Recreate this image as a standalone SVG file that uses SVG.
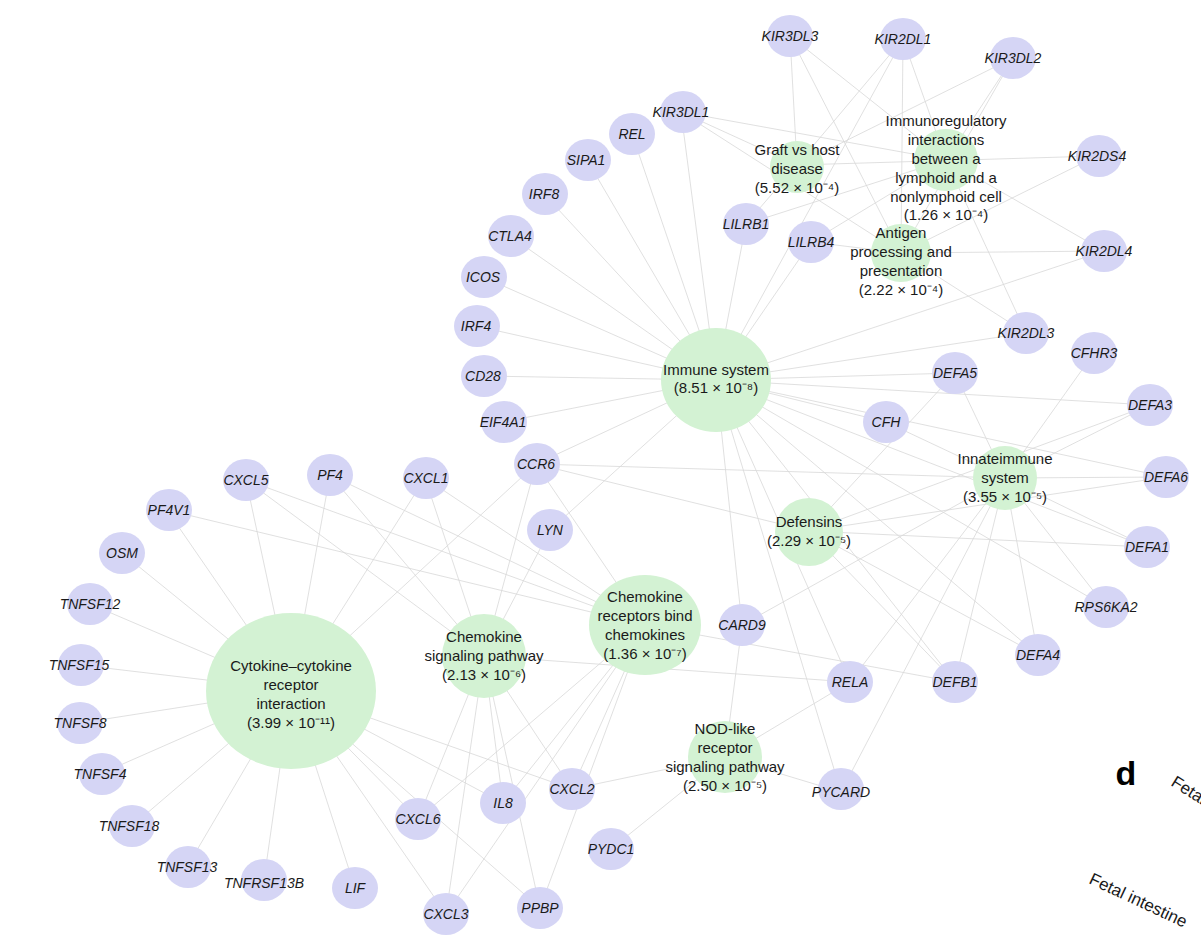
<svg xmlns="http://www.w3.org/2000/svg" width="1201" height="942" viewBox="0 0 1201 942">
<style>
.g ellipse{fill:#d5d5f5}
.p ellipse{fill:#d3f2d3}
text{font-family:"Liberation Sans",Arial,sans-serif;font-size:14px;fill:#1a1a1a;text-anchor:middle}
.p text{font-size:15px}
.g text{font-style:italic}
#edges line{stroke:#d8d8d8;stroke-width:0.8}
</style>
<rect width="1201" height="942" fill="#fff"/>
<g id="edges">
<line x1="716" y1="380" x2="681" y2="112"/><line x1="716" y1="380" x2="632" y2="134"/><line x1="716" y1="380" x2="587" y2="160"/><line x1="716" y1="380" x2="544" y2="194"/><line x1="716" y1="380" x2="510" y2="236"/><line x1="716" y1="380" x2="483" y2="277"/><line x1="716" y1="380" x2="476" y2="326"/><line x1="716" y1="380" x2="483" y2="376"/><line x1="716" y1="380" x2="503" y2="422"/><line x1="716" y1="380" x2="536" y2="464"/><line x1="716" y1="380" x2="746" y2="224"/><line x1="716" y1="380" x2="811" y2="242"/><line x1="716" y1="380" x2="903" y2="39"/><line x1="716" y1="380" x2="1026" y2="333"/><line x1="716" y1="380" x2="1104" y2="251"/><line x1="716" y1="380" x2="955" y2="373"/><line x1="716" y1="380" x2="1150" y2="405"/><line x1="716" y1="380" x2="886" y2="422"/><line x1="716" y1="380" x2="1166" y2="477"/><line x1="716" y1="380" x2="1147" y2="547"/><line x1="716" y1="380" x2="1038" y2="655"/><line x1="716" y1="380" x2="955" y2="682"/><line x1="716" y1="380" x2="850" y2="682"/><line x1="716" y1="380" x2="742" y2="625"/><line x1="716" y1="380" x2="841" y2="792"/><line x1="716" y1="380" x2="550" y2="530"/><line x1="716" y1="380" x2="1106" y2="607"/>
<line x1="797" y1="165" x2="790" y2="36"/><line x1="797" y1="165" x2="903" y2="39"/><line x1="797" y1="165" x2="1013" y2="58"/><line x1="797" y1="165" x2="681" y2="112"/><line x1="797" y1="165" x2="746" y2="224"/><line x1="797" y1="165" x2="1097" y2="156"/>
<line x1="946" y1="160" x2="681" y2="112"/><line x1="946" y1="160" x2="903" y2="39"/><line x1="946" y1="160" x2="1013" y2="58"/><line x1="946" y1="160" x2="746" y2="224"/><line x1="946" y1="160" x2="811" y2="242"/><line x1="946" y1="160" x2="1104" y2="251"/><line x1="946" y1="160" x2="1026" y2="333"/><line x1="946" y1="160" x2="790" y2="36"/>
<line x1="901" y1="253" x2="790" y2="36"/><line x1="901" y1="253" x2="903" y2="39"/><line x1="901" y1="253" x2="1013" y2="58"/><line x1="901" y1="253" x2="681" y2="112"/><line x1="901" y1="253" x2="811" y2="242"/><line x1="901" y1="253" x2="1104" y2="251"/><line x1="901" y1="253" x2="1026" y2="333"/><line x1="901" y1="253" x2="1097" y2="156"/>
<line x1="1005" y1="478" x2="1094" y2="353"/><line x1="1005" y1="478" x2="955" y2="373"/><line x1="1005" y1="478" x2="1150" y2="405"/><line x1="1005" y1="478" x2="886" y2="422"/><line x1="1005" y1="478" x2="1166" y2="477"/><line x1="1005" y1="478" x2="1147" y2="547"/><line x1="1005" y1="478" x2="1106" y2="607"/><line x1="1005" y1="478" x2="1038" y2="655"/><line x1="1005" y1="478" x2="955" y2="682"/><line x1="1005" y1="478" x2="850" y2="682"/><line x1="1005" y1="478" x2="742" y2="625"/><line x1="1005" y1="478" x2="536" y2="464"/><line x1="1005" y1="478" x2="841" y2="792"/>
<line x1="809" y1="531" x2="955" y2="373"/><line x1="809" y1="531" x2="1150" y2="405"/><line x1="809" y1="531" x2="1166" y2="477"/><line x1="809" y1="531" x2="1147" y2="547"/><line x1="809" y1="531" x2="1038" y2="655"/><line x1="809" y1="531" x2="955" y2="682"/><line x1="809" y1="531" x2="536" y2="464"/>
<line x1="645" y1="625" x2="246" y2="480"/><line x1="645" y1="625" x2="330" y2="475"/><line x1="645" y1="625" x2="425" y2="478"/><line x1="645" y1="625" x2="536" y2="464"/><line x1="645" y1="625" x2="167" y2="510"/><line x1="645" y1="625" x2="572" y2="789"/><line x1="645" y1="625" x2="503" y2="803"/><line x1="645" y1="625" x2="418" y2="819"/><line x1="645" y1="625" x2="446" y2="914"/><line x1="645" y1="625" x2="540" y2="908"/><line x1="645" y1="625" x2="955" y2="682"/>
<line x1="484" y1="656" x2="246" y2="480"/><line x1="484" y1="656" x2="330" y2="475"/><line x1="484" y1="656" x2="425" y2="478"/><line x1="484" y1="656" x2="536" y2="464"/><line x1="484" y1="656" x2="550" y2="530"/><line x1="484" y1="656" x2="572" y2="789"/><line x1="484" y1="656" x2="503" y2="803"/><line x1="484" y1="656" x2="418" y2="819"/><line x1="484" y1="656" x2="446" y2="914"/><line x1="484" y1="656" x2="540" y2="908"/><line x1="484" y1="656" x2="850" y2="682"/>
<line x1="291" y1="690" x2="167" y2="510"/><line x1="291" y1="690" x2="122" y2="553"/><line x1="291" y1="690" x2="90" y2="604"/><line x1="291" y1="690" x2="80" y2="665"/><line x1="291" y1="690" x2="80" y2="723"/><line x1="291" y1="690" x2="100" y2="774"/><line x1="291" y1="690" x2="132" y2="826"/><line x1="291" y1="690" x2="187" y2="867"/><line x1="291" y1="690" x2="264" y2="880"/><line x1="291" y1="690" x2="355" y2="888"/><line x1="291" y1="690" x2="246" y2="480"/><line x1="291" y1="690" x2="330" y2="475"/><line x1="291" y1="690" x2="425" y2="478"/><line x1="291" y1="690" x2="536" y2="464"/><line x1="291" y1="690" x2="418" y2="819"/><line x1="291" y1="690" x2="503" y2="803"/><line x1="291" y1="690" x2="572" y2="789"/><line x1="291" y1="690" x2="446" y2="914"/><line x1="291" y1="690" x2="540" y2="908"/>
<line x1="725" y1="757" x2="572" y2="789"/><line x1="725" y1="757" x2="850" y2="682"/><line x1="725" y1="757" x2="742" y2="625"/><line x1="725" y1="757" x2="841" y2="792"/><line x1="725" y1="757" x2="611" y2="849"/>
</g>
<g id="gene-nodes" class="g">
<g id="n-KIR3DL3"><ellipse cx="790" cy="36" rx="23" ry="21"/><text x="790" y="41">KIR3DL3</text></g>
<g id="n-KIR2DL1"><ellipse cx="903" cy="39" rx="23" ry="21"/><text x="903" y="44">KIR2DL1</text></g>
<g id="n-KIR3DL2"><ellipse cx="1013" cy="58" rx="23" ry="21"/><text x="1013" y="63">KIR3DL2</text></g>
<g id="n-KIR3DL1"><ellipse cx="683" cy="112" rx="23" ry="21"/><text x="681" y="117">KIR3DL1</text></g>
<g id="n-REL"><ellipse cx="632" cy="134" rx="23" ry="21"/><text x="632" y="139">REL</text></g>
<g id="n-SIPA1"><ellipse cx="588" cy="160" rx="23" ry="21"/><text x="586" y="165">SIPA1</text></g>
<g id="n-IRF8"><ellipse cx="545" cy="194" rx="23" ry="21"/><text x="544" y="199">IRF8</text></g>
<g id="n-CTLA4"><ellipse cx="511" cy="236" rx="23" ry="21"/><text x="510" y="241">CTLA4</text></g>
<g id="n-ICOS"><ellipse cx="484" cy="277" rx="23" ry="21"/><text x="483" y="282">ICOS</text></g>
<g id="n-IRF4"><ellipse cx="477" cy="326" rx="23" ry="21"/><text x="476" y="331">IRF4</text></g>
<g id="n-CD28"><ellipse cx="484" cy="376" rx="23" ry="21"/><text x="483" y="381">CD28</text></g>
<g id="n-EIF4A1"><ellipse cx="504" cy="422" rx="23" ry="21"/><text x="503" y="427">EIF4A1</text></g>
<g id="n-CCR6"><ellipse cx="537" cy="464" rx="23" ry="21"/><text x="536" y="469">CCR6</text></g>
<g id="n-LILRB1"><ellipse cx="746" cy="224" rx="23" ry="21"/><text x="746" y="229">LILRB1</text></g>
<g id="n-LILRB4"><ellipse cx="811" cy="242" rx="23" ry="21"/><text x="811" y="247">LILRB4</text></g>
<g id="n-KIR2DS4"><ellipse cx="1099" cy="156" rx="23" ry="21"/><text x="1097" y="161">KIR2DS4</text></g>
<g id="n-KIR2DL4"><ellipse cx="1104" cy="251" rx="23" ry="21"/><text x="1104" y="256">KIR2DL4</text></g>
<g id="n-KIR2DL3"><ellipse cx="1026" cy="333" rx="23" ry="21"/><text x="1026" y="338">KIR2DL3</text></g>
<g id="n-CFHR3"><ellipse cx="1094" cy="353" rx="23" ry="21"/><text x="1094" y="358">CFHR3</text></g>
<g id="n-DEFA5"><ellipse cx="955" cy="373" rx="23" ry="21"/><text x="955" y="378">DEFA5</text></g>
<g id="n-DEFA3"><ellipse cx="1150" cy="405" rx="23" ry="21"/><text x="1150" y="410">DEFA3</text></g>
<g id="n-CFH"><ellipse cx="886" cy="422" rx="23" ry="21"/><text x="886" y="427">CFH</text></g>
<g id="n-DEFA6"><ellipse cx="1166" cy="477" rx="23" ry="21"/><text x="1166" y="482">DEFA6</text></g>
<g id="n-DEFA1"><ellipse cx="1147" cy="547" rx="23" ry="21"/><text x="1147" y="552">DEFA1</text></g>
<g id="n-RPS6KA2"><ellipse cx="1106" cy="607" rx="23" ry="21"/><text x="1106" y="612">RPS6KA2</text></g>
<g id="n-DEFA4"><ellipse cx="1038" cy="655" rx="23" ry="21"/><text x="1038" y="660">DEFA4</text></g>
<g id="n-DEFB1"><ellipse cx="955" cy="682" rx="23" ry="21"/><text x="955" y="687">DEFB1</text></g>
<g id="n-RELA"><ellipse cx="850" cy="682" rx="23" ry="21"/><text x="850" y="687">RELA</text></g>
<g id="n-CARD9"><ellipse cx="742" cy="625" rx="23" ry="21"/><text x="742" y="630">CARD9</text></g>
<g id="n-PYCARD"><ellipse cx="841" cy="789" rx="23" ry="21"/><text x="841" y="797">PYCARD</text></g>
<g id="n-PYDC1"><ellipse cx="611" cy="849" rx="23" ry="21"/><text x="611" y="854">PYDC1</text></g>
<g id="n-PPBP"><ellipse cx="540" cy="908" rx="23" ry="21"/><text x="540" y="913">PPBP</text></g>
<g id="n-CXCL3"><ellipse cx="446" cy="914" rx="23" ry="21"/><text x="446" y="919">CXCL3</text></g>
<g id="n-CXCL2"><ellipse cx="572" cy="789" rx="23" ry="21"/><text x="572" y="794">CXCL2</text></g>
<g id="n-IL8"><ellipse cx="503" cy="803" rx="23" ry="21"/><text x="503" y="808">IL8</text></g>
<g id="n-CXCL6"><ellipse cx="418" cy="819" rx="23" ry="21"/><text x="418" y="824">CXCL6</text></g>
<g id="n-LIF"><ellipse cx="355" cy="888" rx="23" ry="21"/><text x="355" y="893">LIF</text></g>
<g id="n-TNFRSF13B"><ellipse cx="264" cy="880" rx="23" ry="21"/><text x="264" y="888">TNFRSF13B</text></g>
<g id="n-TNFSF13"><ellipse cx="188" cy="867" rx="23" ry="21"/><text x="187" y="872">TNFSF13</text></g>
<g id="n-TNFSF18"><ellipse cx="132" cy="826" rx="23" ry="21"/><text x="129" y="831">TNFSF18</text></g>
<g id="n-TNFSF4"><ellipse cx="102" cy="774" rx="23" ry="21"/><text x="100" y="779">TNFSF4</text></g>
<g id="n-TNFSF8"><ellipse cx="80" cy="723" rx="23" ry="21"/><text x="80" y="728">TNFSF8</text></g>
<g id="n-TNFSF15"><ellipse cx="81" cy="665" rx="23" ry="21"/><text x="79" y="670">TNFSF15</text></g>
<g id="n-TNFSF12"><ellipse cx="90" cy="604" rx="23" ry="21"/><text x="90" y="609">TNFSF12</text></g>
<g id="n-OSM"><ellipse cx="122" cy="553" rx="23" ry="21"/><text x="122" y="558">OSM</text></g>
<g id="n-PF4V1"><ellipse cx="169" cy="510" rx="23" ry="21"/><text x="169" y="515">PF4V1</text></g>
<g id="n-CXCL5"><ellipse cx="246" cy="480" rx="23" ry="21"/><text x="246" y="485">CXCL5</text></g>
<g id="n-PF4"><ellipse cx="330" cy="475" rx="23" ry="21"/><text x="330" y="480">PF4</text></g>
<g id="n-CXCL1"><ellipse cx="426" cy="478" rx="23" ry="21"/><text x="426" y="483">CXCL1</text></g>
<g id="n-LYN"><ellipse cx="550" cy="530" rx="23" ry="21"/><text x="550" y="535">LYN</text></g>
</g>
<g id="pathway-nodes" class="p">
<g id="p-immune"><ellipse cx="716" cy="380" rx="55" ry="52"/><text x="716" y="375">Immune system</text><text x="716" y="393">(8.51 × 10⁻⁸)</text></g>
<g id="p-gvhd"><ellipse cx="797" cy="167" rx="27" ry="26"/><text x="797" y="155">Graft vs host</text><text x="797" y="174">disease</text><text x="797" y="193">(5.52 × 10⁻⁴)</text></g>
<g id="p-immunoreg"><ellipse cx="946" cy="160" rx="32" ry="31"/><text x="946" y="126">Immunoregulatory</text><text x="946" y="145">interactions</text><text x="946" y="164">between a</text><text x="946" y="183">lymphoid and a</text><text x="946" y="202">nonlymphoid cell</text><text x="946" y="220">(1.26 × 10⁻⁴)</text></g>
<g id="p-antigen"><ellipse cx="901" cy="253" rx="30" ry="29"/><text x="901" y="238">Antigen</text><text x="901" y="257">processing and</text><text x="901" y="276">presentation</text><text x="901" y="295">(2.22 × 10⁻⁴)</text></g>
<g id="p-innate"><ellipse cx="1005" cy="478" rx="32" ry="32"/><text x="1005" y="464">Innateimmune</text><text x="1005" y="483">system</text><text x="1005" y="502">(3.55 × 10⁻⁵)</text></g>
<g id="p-defensins"><ellipse cx="809" cy="532" rx="34" ry="34"/><text x="809" y="527">Defensins</text><text x="809" y="546">(2.29 × 10⁻⁵)</text></g>
<g id="p-crbc"><ellipse cx="645" cy="625" rx="56" ry="50"/><text x="645" y="602">Chemokine</text><text x="645" y="621">receptors bind</text><text x="645" y="640">chemokines</text><text x="645" y="659">(1.36 × 10⁻⁷)</text></g>
<g id="p-csp"><ellipse cx="484" cy="656" rx="42" ry="42"/><text x="484" y="642">Chemokine</text><text x="484" y="661">signaling pathway</text><text x="484" y="680">(2.13 × 10⁻⁶)</text></g>
<g id="p-cytokine"><ellipse cx="291" cy="691" rx="85" ry="78"/><text x="291" y="671">Cytokine–cytokine</text><text x="291" y="690">receptor</text><text x="291" y="709">interaction</text><text x="291" y="728">(3.99 × 10⁻¹¹)</text></g>
<g id="p-nod"><ellipse cx="725" cy="757" rx="37" ry="36"/><text x="725" y="734">NOD-like</text><text x="725" y="753">receptor</text><text x="725" y="772">signaling pathway</text><text x="725" y="791">(2.50 × 10⁻⁵)</text></g>
</g>
<text x="1126" y="785" style="font-size:34px;font-weight:bold;fill:#000">d</text>
<text x="1170" y="785" transform="rotate(32 1170 785)" style="font-size:17px;text-anchor:start">Fetal</text>
<text x="1088" y="883" transform="rotate(25 1088 883)" style="font-size:17px;text-anchor:start">Fetal intestine</text>
</svg>
